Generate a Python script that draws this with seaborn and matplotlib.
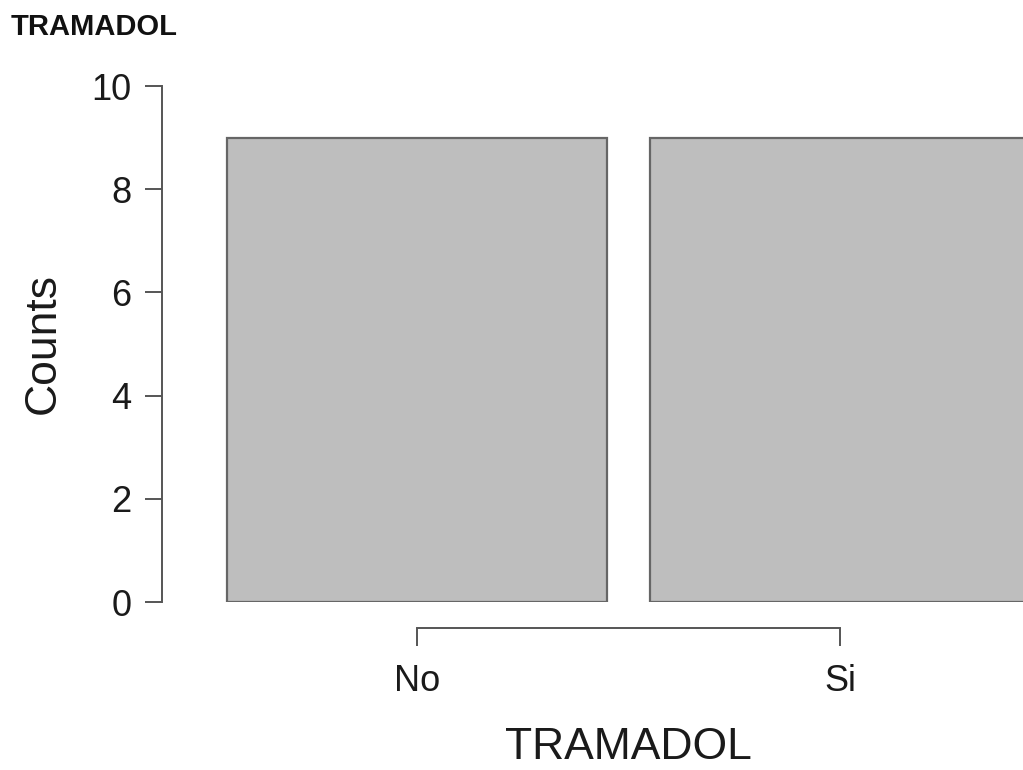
import matplotlib
matplotlib.use("Agg")
import matplotlib.pyplot as plt
import seaborn as sns
import pandas as pd

# data
categories = ["No", "Si"]
counts = [9, 9]
y_ticks = [0, 2, 4, 6, 8, 10]

sns.set_theme(style="white")
plt.rcParams['font.family'] = ['Liberation Sans', 'DejaVu Sans']

df = pd.DataFrame({"TRAMADOL": categories, "Counts": counts})

W, H = 1023, 770
fig = plt.figure(figsize=(W / 100, H / 100), dpi=100)
# axes in pixel coords: x 0 -> 417px, 1 -> 840px; y 0 -> 602px, 10 -> 86px
unit = 840 - 417
left_px = 417 - 0.5 * unit
ax = fig.add_axes([left_px / W, (H - 602) / H, 2 * unit / W, (602 - 86) / H])

sns.barplot(data=df, x="TRAMADOL", y="Counts", ax=ax, color="#BEBEBE",
            width=0.9, edgecolor="#666666", linewidth=1.6, saturation=1)
for p in ax.patches:
    p.set_facecolor("#BEBEBE")

ax.set_xlim(-0.5, 1.5)
ax.set_ylim(0, 10)
ax.set_yticks(y_ticks)
ax.set_xticks([0, 1])
ax.set_xticklabels(categories)

for s in ["top", "right"]:
    ax.spines[s].set_visible(False)
ax.spines["left"].set_position(("outward", (left_px - 162) * 0.72))
ax.spines["bottom"].set_position(("outward", (628 - 602) * 0.72))
ax.spines["left"].set_bounds(0, 10)
ax.spines["bottom"].set_bounds(0, 1)
for s in ["left", "bottom"]:
    ax.spines[s].set_color("#555555")
    ax.spines[s].set_linewidth(1.4)

ax.tick_params(axis="both", colors="#555555", labelcolor="#1a1a1a", width=1.4,
               labelsize=26, direction="out")
ax.tick_params(axis="y", length=12, pad=10, left=True)
ax.tick_params(axis="x", length=13, pad=13, bottom=True)

ax.set_ylabel("Counts", fontsize=32, color="#1a1a1a", labelpad=20)
ax.set_xlabel("TRAMADOL", fontsize=32, color="#1a1a1a", labelpad=20)

fig.text(11 / W, 1 - 27 / H, "TRAMADOL", fontsize=21, fontweight="bold",
         color="#111111", ha="left", va="center")

fig.savefig("out.png", dpi=100)
